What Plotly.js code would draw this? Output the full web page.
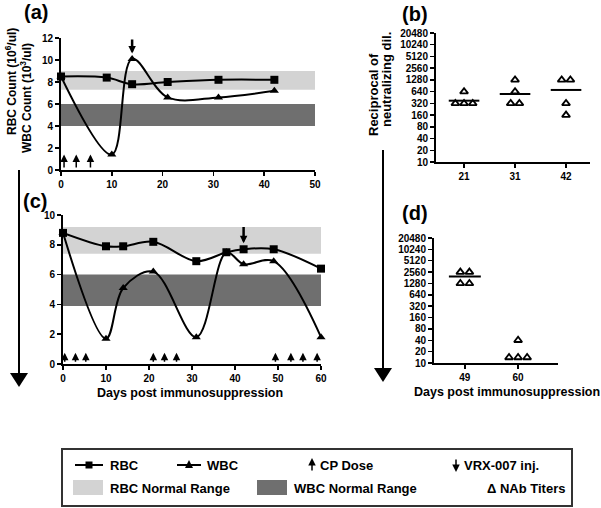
<!DOCTYPE html>
<html>
<head>
<meta charset="utf-8">
<script src="https://cdn.plot.ly/plotly-3.0.1.min.js"></script>
<style>
  html, body { margin: 0; padding: 0; background: #fff; }
  #chart { width: 601px; height: 508px; }
</style>
</head>
<body>
<div id="chart"></div>
<script>
// panel (a): blood counts, first cycle
const rbcDaysA = [0, 9, 14, 21, 31, 42];
const rbcA = [8.5, 8.4, 7.8, 8.0, 8.2, 8.2];
const wbcDaysA = [0, 10, 14, 21, 31, 42];
const wbcA = [8.5, 1.4, 10.1, 6.6, 6.6, 7.2];
const cpDaysA = [0.6, 3, 5.8];
const vrxDaysA = [14];
const rbcRangeA = [7.3, 9.0];
const wbcRangeA = [4.0, 6.0];

// panel (c): blood counts, repeated cycles
const rbcDaysC = [0, 10, 14, 21, 31, 38, 42, 49, 60];
const rbcC = [8.8, 7.9, 7.9, 8.2, 6.9, 7.5, 7.7, 7.7, 6.4];
const wbcDaysC = [0, 10, 14, 21, 31, 38, 42, 49, 60];
const wbcC = [8.8, 1.7, 5.1, 6.2, 1.8, 7.5, 6.7, 6.9, 1.8];
const cpDaysC = [0.4, 2.9, 5.3, 21, 23.6, 26.4, 49.4, 53, 55.8, 59.1];
const vrxDaysC = [42];
const rbcRangeC = [7.4, 9.2];
const wbcRangeC = [3.9, 6.0];

// panels (b) and (d): NAb titers
const titerTicks = [10, 20, 40, 80, 160, 320, 640, 1280, 2560, 5120, 10240, 20480];
const groupsB = ["21", "31", "42"];
const titersB = [[640, 320, 320, 320], [1280, 640, 320, 320], [1280, 1280, 320, 160]];
const meansB = [375, 557, 707];
const groupsD = ["49", "60"];
const titersD = [[2560, 2560, 1280, 1280], [40, 14, 14, 14]];
const meansD = [1970, null];

const W = 601, H = 508;
const px = v => v / W;
const py = v => 1 - v / H;
const FONT = "Liberation Sans, Arial, sans-serif";
const bold = (size) => ({ family: FONT, size: size, color: "#000", weight: "bold" });

function countTrace(x, y, symbol, xa, ya) {
  return {
    x: x, y: y, xaxis: xa, yaxis: ya, type: "scatter", mode: "lines+markers",
    cliponaxis: false, showlegend: false, hoverinfo: "skip",
    line: { shape: "spline", smoothing: 1, color: "#000", width: 2 },
    marker: { symbol: symbol, size: 8, color: "#000" }
  };
}

// spread equal values sideways inside each group
function titerPoints(groups, xa, ya) {
  const xs = [], ys = [];
  groups.forEach((vals, i) => {
    const seen = {};
    vals.forEach(v => { seen[v] = (seen[v] || 0) + 1; });
    const used = {};
    vals.forEach(v => {
      const n = seen[v], k = used[v] || 0;
      used[v] = k + 1;
      xs.push(i + (k - (n - 1) / 2) * 0.17);
      ys.push(v);
    });
  });
  return {
    x: xs, y: ys, xaxis: xa, yaxis: ya, type: "scatter", mode: "markers",
    cliponaxis: false, showlegend: false, hoverinfo: "skip",
    marker: { symbol: "triangle-up-open", size: 7, color: "#000", line: { width: 1.8, color: "#000" } }
  };
}

function meanLines(means, xa, ya) {
  const xs = [], ys = [];
  means.forEach((m, i) => {
    if (m === null) return;
    xs.push(i - 0.3, i + 0.3, null);
    ys.push(m, m, null);
  });
  return {
    x: xs, y: ys, xaxis: xa, yaxis: ya, type: "scatter", mode: "lines",
    showlegend: false, hoverinfo: "skip", line: { color: "#000", width: 2 }
  };
}

const data = [
  countTrace(wbcDaysA, wbcA, "triangle-up", "x", "y"),
  countTrace(rbcDaysA, rbcA, "square", "x", "y"),
  countTrace(wbcDaysC, wbcC, "triangle-up", "x2", "y2"),
  countTrace(rbcDaysC, rbcC, "square", "x2", "y2"),
  titerPoints(titersB, "x3", "y3"),
  meanLines(meansB, "x3", "y3"),
  titerPoints(titersD, "x4", "y4"),
  meanLines(meansD, "x4", "y4")
];

const axisBase = {
  showgrid: false, zeroline: false, showline: true, linecolor: "#000", linewidth: 2,
  ticks: "outside", ticklen: 4, tickwidth: 1.5, tickcolor: "#000",
  tickfont: bold(10), fixedrange: true
};
const logTicks = {
  type: "log", range: [1, Math.log10(20480)],
  tickmode: "array", tickvals: titerTicks, ticktext: titerTicks.map(String)
};

const shapes = [];
const annotations = [];

function bands(xref, yref, xEnd, rbcR, wbcR) {
  shapes.push({ type: "rect", xref: xref, yref: yref, x0: 0, x1: xEnd, y0: rbcR[0], y1: rbcR[1],
    fillcolor: "#d3d3d3", line: { width: 0 }, layer: "below" });
  shapes.push({ type: "rect", xref: xref, yref: yref, x0: 0, x1: xEnd, y0: wbcR[0], y1: wbcR[1],
    fillcolor: "#6f6f6f", line: { width: 0 }, layer: "below" });
}
bands("x", "y", 50, rbcRangeA, wbcRangeA);
bands("x2", "y2", 60, rbcRangeC, wbcRangeC);

function arrows(days, xref, yref, tail, tip, w, size) {
  days.forEach(d => annotations.push({
    x: d, y: tip, ax: d, ay: tail, xref: xref, yref: yref, axref: xref, ayref: yref,
    text: "", showarrow: true, arrowhead: 2, arrowsize: size, arrowwidth: w, arrowcolor: "#000", standoff: 0
  }));
}
arrows(cpDaysA, "x", "y", 0.1, 1.4, 1.5, 1);
arrows(vrxDaysA, "x", "y", 12, 10.6, 2.5, 0.6);
arrows(cpDaysC, "x2", "y2", 0.05, 0.75, 1.5, 1);
arrows(vrxDaysC, "x2", "y2", 9.3, 8.1, 2.5, 0.6);

function label(text, x, y, size, extra) {
  annotations.push(Object.assign({
    text: text, x: px(x), y: py(y), xref: "paper", yref: "paper",
    showarrow: false, font: bold(size), xanchor: "center", yanchor: "middle"
  }, extra || {}));
}

// panel letters
label("(a)", 36, 12, 20);
label("(b)", 415, 14, 20);
label("(c)", 35, 201, 20);
label("(d)", 415, 213, 20);

// axis titles
label("RBC Count (10<sup>6</sup>/ul)", 11, 82, 12, { textangle: -90 });
label("WBC Count (10<sup>3</sup>/ul)", 26, 98, 12, { textangle: -90 });
label("Reciprocal of", 373, 95, 13, { textangle: -90 });
label("neutralizing dil.", 387, 80, 13, { textangle: -90 });
label("Days post immunosuppression", 190, 393, 12.5);
label("Days post immunosuppression", 412, 392, 12.5, { xanchor: "left" });

// long down arrows
function bigArrow(x, y0, y1) {
  shapes.push({ type: "line", xref: "paper", yref: "paper", x0: px(x), x1: px(x), y0: py(y0), y1: py(y1 - 4),
    line: { color: "#000", width: 2 } });
  shapes.push({ type: "path", xref: "paper", yref: "paper",
    path: `M ${px(x - 9)} ${py(y1 - 14)} L ${px(x + 9)} ${py(y1 - 14)} L ${px(x)} ${py(y1)} Z`,
    fillcolor: "#000", line: { width: 0 } });
}
bigArrow(19, 170, 387);
bigArrow(383, 150, 382);

// legend box
shapes.push({ type: "rect", xref: "paper", yref: "paper", x0: px(62), x1: px(572), y0: py(506), y1: py(449),
  line: { color: "#333", width: 2 }, fillcolor: "rgba(0,0,0,0)" });
const row1 = 465, row2 = 488;
shapes.push({ type: "line", xref: "paper", yref: "paper", x0: px(75), x1: px(103), y0: py(row1), y1: py(row1),
  line: { color: "#000", width: 2 } });
shapes.push({ type: "rect", xref: "paper", yref: "paper", x0: px(85.5), x1: px(92.5), y0: py(row1 + 3.5), y1: py(row1 - 3.5),
  fillcolor: "#000", line: { width: 0 } });
shapes.push({ type: "line", xref: "paper", yref: "paper", x0: px(177), x1: px(201), y0: py(row1), y1: py(row1),
  line: { color: "#000", width: 2 } });
shapes.push({ type: "path", xref: "paper", yref: "paper",
  path: `M ${px(185)} ${py(row1 + 3)} L ${px(193)} ${py(row1 + 3)} L ${px(189)} ${py(row1 - 5)} Z`,
  fillcolor: "#000", line: { width: 0 } });
shapes.push({ type: "rect", xref: "paper", yref: "paper", x0: px(73), x1: px(103), y0: py(495), y1: py(480),
  fillcolor: "#d3d3d3", line: { width: 0 } });
shapes.push({ type: "rect", xref: "paper", yref: "paper", x0: px(257), x1: px(287), y0: py(495), y1: py(480),
  fillcolor: "#6f6f6f", line: { width: 0 } });
annotations.push({ x: px(312), y: py(row1 - 7), xref: "paper", yref: "paper", ax: 0, ay: 14, text: "",
  showarrow: true, arrowhead: 2, arrowsize: 1, arrowwidth: 1.5, arrowcolor: "#000", standoff: 0 });
annotations.push({ x: px(456), y: py(row1 + 7), xref: "paper", yref: "paper", ax: 0, ay: -14, text: "",
  showarrow: true, arrowhead: 2, arrowsize: 1, arrowwidth: 1.5, arrowcolor: "#000", standoff: 0 });
const left = { xanchor: "left" };
label("RBC", 108, row1, 13, left);
label("WBC", 205, row1, 13, left);
label("CP Dose", 318, row1, 13, left);
label("VRX-007 inj.", 462, row1, 13, left);
label("RBC Normal Range", 108, row2, 13, left);
label("WBC Normal Range", 292, row2, 13, left);
label("Δ NAb Titers", 485, row2, 13, left);

const layout = {
  width: W, height: H,
  margin: { l: 0, r: 0, t: 0, b: 0 },
  paper_bgcolor: "#fff", plot_bgcolor: "rgba(0,0,0,0)",
  font: bold(10),
  showlegend: false,
  xaxis: Object.assign({}, axisBase, { domain: [px(61), px(315)], range: [0, 50], dtick: 10, anchor: "y" }),
  yaxis: Object.assign({}, axisBase, { domain: [py(170), py(38)], range: [0, 12], dtick: 2, anchor: "x" }),
  xaxis2: Object.assign({}, axisBase, { domain: [px(63), px(321)], range: [0, 60], dtick: 10, anchor: "y2" }),
  yaxis2: Object.assign({}, axisBase, { domain: [py(364), py(215)], range: [0, 10], dtick: 2, anchor: "x2" }),
  xaxis3: Object.assign({}, axisBase, { domain: [px(436), px(590)], range: [-0.55, 2.47],
    tickmode: "array", tickvals: groupsB.map((g, i) => i), ticktext: groupsB, anchor: "y3" }),
  yaxis3: Object.assign({}, axisBase, logTicks, { domain: [py(162), py(33)], anchor: "x3" }),
  xaxis4: Object.assign({}, axisBase, { domain: [px(434), px(558)], range: [-0.58, 1.75],
    tickmode: "array", tickvals: groupsD.map((g, i) => i), ticktext: groupsD, anchor: "y4" }),
  yaxis4: Object.assign({}, axisBase, logTicks, { domain: [py(363), py(238)], anchor: "x4" }),
  shapes: shapes,
  annotations: annotations
};

Plotly.newPlot("chart", data, layout, { staticPlot: true, displayModeBar: false });
</script>
</body>
</html>
